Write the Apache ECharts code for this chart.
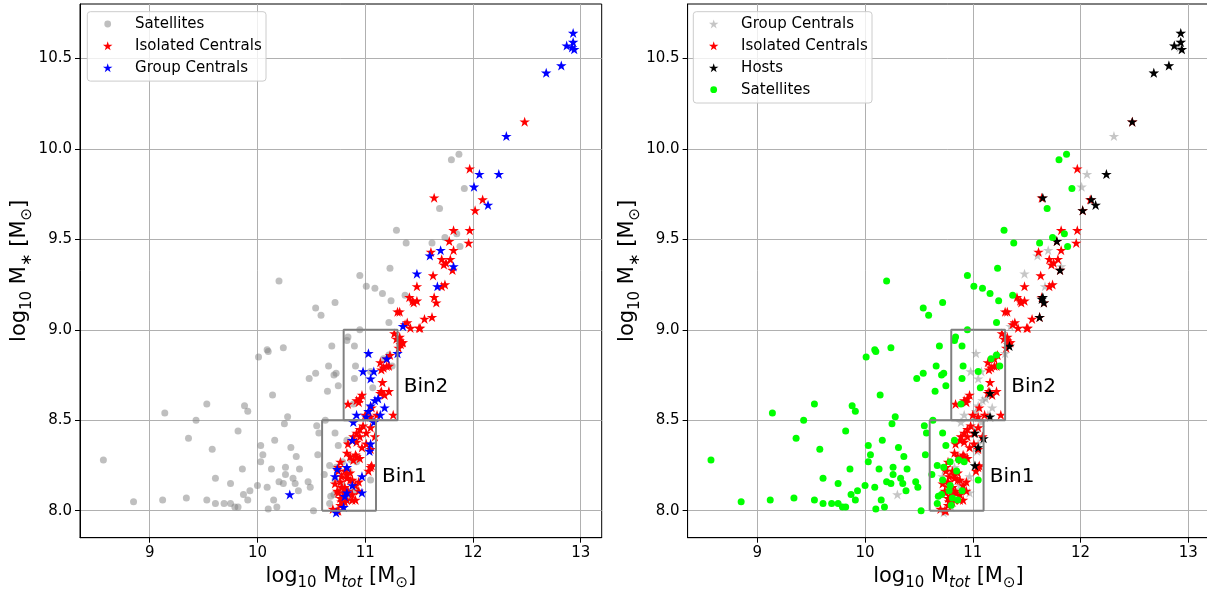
<!DOCTYPE html>
<html>
<head>
<meta charset="utf-8">
<script src="https://cdn.jsdelivr.net/npm/echarts@6/dist/echarts.min.js"></script>
<style>
  html, body { margin: 0; padding: 0; background: #fff; }
  #chart { width: 1207px; height: 591px; }
</style>
</head>
<body>
<div id="chart"></div>
<script>
// log10 halo mass (x) and log10 stellar mass (y) of each galaxy class
const satellites = [
  [8.57,8.28],[8.85,8.05],[9.12,8.06],[9.14,8.54],[9.34,8.07],[9.36,8.40],[9.43,8.50],[9.53,8.59],[9.53,8.06],[9.58,8.34],
  [9.61,8.18],[9.61,8.04],[9.69,8.04],[9.75,8.15],[9.75,8.04],[9.79,8.02],[9.82,8.44],[9.82,8.02],[9.86,8.23],[9.87,8.09],
  [9.88,8.58],[9.91,8.55],[9.91,8.06],[9.93,8.11],[10.00,8.14],[10.01,8.85],[10.03,8.36],[10.03,8.27],[10.05,8.31],[10.09,8.89],
  [10.10,8.88],[10.09,8.13],[10.10,8.01],[10.13,8.23],[10.14,8.64],[10.15,8.06],[10.16,8.39],[10.18,8.02],[10.20,9.27],[10.20,8.16],
  [10.24,8.90],[10.25,8.48],[10.24,8.15],[10.26,8.24],[10.26,8.20],[10.28,8.52],[10.31,8.35],[10.33,8.18],[10.35,8.15],[10.36,8.30],
  [10.38,8.11],[10.39,8.23],[10.47,8.16],[10.48,8.73],[10.49,8.13],[10.52,8.00],[10.54,9.12],[10.54,8.76],[10.55,8.47],[10.56,8.31],
  [10.57,8.43],[10.59,9.08],[10.63,8.50],[10.62,8.20],[10.65,8.66],[10.66,8.80],[10.67,8.25],[10.67,8.04],[10.69,8.91],[10.71,8.75],
  [10.72,9.15],[10.73,8.76],[10.72,8.43],[10.75,8.69],[10.75,8.36],[11.01,9.24],[11.09,9.23],[11.16,9.20],[11.24,9.16],[11.37,9.19],
  [11.22,9.04],[10.95,9.00],[10.84,8.96],[10.83,8.94],[10.90,8.91],[10.91,8.80],[10.90,8.73],[11.07,8.68],[11.05,8.17],[11.87,9.97],
  [11.80,9.94],[11.92,9.78],[11.69,9.67],[11.29,9.55],[11.38,9.48],[11.62,9.48],[11.74,9.51],[11.85,9.53],[11.88,9.46],[11.23,9.34],
  [10.95,9.30],[11.05,8.77],[11.17,8.84],[11.22,8.86],[11.25,8.80],[10.89,8.59],[10.83,8.39],[10.79,8.27],[10.87,8.28],[10.92,8.27],
  [10.73,8.24],[10.85,8.22],[10.79,8.14],[10.78,8.11],[10.81,8.07],[10.90,8.11],[10.68,8.08],[10.86,8.06],[10.80,8.03],[10.71,8.09],
  [10.72,8.17]
];

const isolatedCentrals = [
  [12.48,10.15],[11.97,9.89],[11.64,9.73],[12.09,9.72],[12.02,9.66],[11.82,9.55],[11.97,9.55],[11.78,9.49],[11.82,9.44],[11.96,9.48],
  [11.61,9.43],[11.71,9.39],[11.79,9.39],[11.73,9.36],[11.75,9.37],[11.81,9.33],[11.63,9.30],[11.48,9.24],[11.74,9.25],[11.71,9.24],
  [11.64,9.18],[11.41,9.18],[11.45,9.15],[11.48,9.16],[11.66,9.15],[11.30,9.10],[11.32,9.10],[11.55,9.06],[11.62,9.07],[11.39,9.04],
  [11.50,9.01],[11.42,9.01],[11.27,8.98],[11.32,8.96],[11.34,8.93],[11.33,8.92],[11.32,8.94],[11.35,8.93],[11.29,8.95],[11.31,8.90],
  [11.20,8.84],[11.23,8.86],[11.14,8.82],[11.17,8.79],[11.20,8.80],[11.15,8.78],[11.22,8.80],[11.16,8.71],[11.15,8.66],[11.22,8.66],
  [11.18,8.64],[11.14,8.65],[10.97,8.64],[10.95,8.62],[10.84,8.59],[10.92,8.61],[11.26,8.53],[11.11,8.53],[11.05,8.52],[11.06,8.57],
  [11.00,8.53],[10.94,8.60],[10.98,8.47],[10.95,8.45],[10.92,8.43],[11.01,8.43],[11.05,8.46],[11.09,8.41],[10.89,8.41],[10.92,8.38],
  [10.97,8.35],[11.01,8.37],[10.84,8.37],[10.88,8.39],[11.05,8.34],[10.95,8.41],[10.83,8.32],[10.86,8.30],[10.89,8.28],[10.92,8.30],
  [10.95,8.29],[10.91,8.31],[11.05,8.24],[11.03,8.22],[11.06,8.25],[10.77,8.27],[10.75,8.24],[10.81,8.22],[10.86,8.21],[10.83,8.18],
  [10.88,8.17],[10.94,8.16],[10.75,8.22],[10.78,8.19],[10.83,8.20],[10.77,8.16],[10.78,8.13],[10.72,8.15],[10.81,8.13],[10.86,8.17],
  [10.91,8.14],[10.94,8.11],[10.74,8.11],[10.80,8.10],[10.84,8.10],[10.75,8.10],[10.80,8.08],[10.84,8.11],[10.88,8.09],[10.91,8.06],
  [10.77,8.07],[10.88,8.06],[10.81,8.05],[10.78,8.05],[10.83,8.06],[10.70,8.01],[10.75,8.00],[10.77,8.03],[10.74,8.00],[11.37,9.03],
  [11.44,9.16],[11.51,9.01]
];

const groupCentrals = [
  [12.93,10.64],[12.87,10.57],[12.93,10.59],[12.94,10.55],[12.92,10.56],[12.82,10.46],[12.68,10.42],[12.31,10.07],[12.06,9.86],[12.24,9.86],
  [12.01,9.79],[12.14,9.69],[11.70,9.44],[11.60,9.41],[11.82,9.35],[11.48,9.31],[11.67,9.24],[11.35,9.02],[11.30,8.87],[11.03,8.87],
  [11.20,8.84],[10.98,8.77],[11.08,8.77],[11.05,8.73],[11.09,8.61],[11.12,8.62],[11.05,8.58],[11.18,8.57],[11.14,8.53],[10.92,8.53],
  [11.03,8.55],[11.01,8.52],[11.08,8.49],[10.89,8.49],[11.05,8.37],[11.04,8.33],[10.88,8.39],[10.74,8.23],[10.83,8.24],[10.72,8.19],
  [10.97,8.19],[10.88,8.14],[10.83,8.10],[10.81,8.08],[10.97,8.10],[10.80,8.02],[10.73,7.99],[10.30,8.09]
];

const hosts = [
  [12.93,10.64],[12.87,10.57],[12.93,10.59],[12.94,10.55],[12.82,10.46],[12.68,10.42],[12.48,10.15],[12.24,9.86],[11.65,9.73],[12.10,9.72],
  [12.14,9.69],[12.02,9.66],[11.78,9.49],[11.81,9.33],[11.65,9.18],[11.64,9.17],[11.66,9.15],[11.62,9.07],[11.34,8.91],[11.16,8.65],
  [11.16,8.52],[11.02,8.43],[11.10,8.40],[11.05,8.35],[11.02,8.25]
];

// stellar-mass bins: [xMin, xMax, yMin, yMax]
const binNames = ['Bin1', 'Bin2'];
const binEdges = [[10.6, 11.1, 8.0, 8.5], [10.8, 11.3, 8.5, 9.0]];

const xTicks = [9, 10, 11, 12, 13];
const yTicks = [8.0, 8.5, 9.0, 9.5, 10.0, 10.5];
const X_RANGE = [8.353, 13.195];
const Y_RANGE = [7.851, 10.80];

const FONT = 'DejaVu Sans';
const COLORS = {
  satGrey: 'rgba(128,128,128,0.5)',
  satGreen: '#00ff00',
  isolated: '#ff0000',
  groupBlue: '#0000ff',
  groupGrey: 'rgba(128,128,128,0.45)',
  hosts: '#000000'
};

// five-pointed star vertices on a unit circle (y pointing down)
function starPoints() {
  const pts = [];
  for (let i = 0; i < 10; i++) {
    const r = i % 2 ? 0.382 : 1;
    const a = Math.PI / 2 + i * Math.PI / 5;
    pts.push([r * Math.cos(a), -r * Math.sin(a)]);
  }
  return pts;
}
const STAR_PTS = starPoints();
const STAR = 'path://M' + STAR_PTS.map(p => (50 + 50 * p[0]).toFixed(2) + ',' + (50 + 50 * p[1]).toFixed(2)).join('L') + 'Z';

const nameRich = {
  t: { fontFamily: FONT, fontSize: 21, lineHeight: 30, color: '#000' },
  s: { fontFamily: FONT, fontSize: 15, lineHeight: 18, verticalAlign: 'bottom', color: '#000' },
  i: { fontFamily: FONT, fontSize: 15, lineHeight: 18, verticalAlign: 'bottom', fontStyle: 'italic', color: '#000' }
};
const xName = '{t|log}{s|10}{t| M}{i|tot}{t| [M}{s|⊙}{t|]}';
const yName = '{t|log}{s|10}{t| M}{s|∗}{t| [M}{s|⊙}{t|]}';

const GRID_W = 521.7, GRID_H = 533.7, GRID_TOP = 4;
const panelLeft = [80, 687.6];

function makeXAxis(gi) {
  return {
    type: 'value', gridIndex: gi, min: X_RANGE[0], max: X_RANGE[1],
    axisLine: { show: true, onZero: false, lineStyle: { color: '#000', width: 1 } },
    axisTick: { show: true, length: 5, customValues: xTicks, lineStyle: { color: '#000', width: 1 } },
    axisLabel: { customValues: xTicks, fontFamily: FONT, fontSize: 15, color: '#000', margin: 8,
                 formatter: v => String(Math.round(v)) },
    splitLine: { show: true, lineStyle: { color: '#b0b0b0', width: 1 } },
    name: xName, nameLocation: 'middle', nameGap: 22,
    nameTextStyle: { rich: nameRich }
  };
}
function makeYAxis(gi) {
  return {
    type: 'value', gridIndex: gi, min: Y_RANGE[0], max: Y_RANGE[1],
    axisLine: { show: true, onZero: false, lineStyle: { color: '#000', width: 1 } },
    axisTick: { show: true, length: 5, customValues: yTicks, lineStyle: { color: '#000', width: 1 } },
    axisLabel: { customValues: yTicks, fontFamily: FONT, fontSize: 15, color: '#000', margin: 8,
                 formatter: v => v.toFixed(1) },
    splitLine: { show: true, lineStyle: { color: '#b0b0b0', width: 1 } },
    name: yName, nameLocation: 'middle', nameGap: 32,
    nameTextStyle: { rich: nameRich }
  };
}

function scatter(gi, data, symbol, size, color) {
  return {
    type: 'scatter', xAxisIndex: gi, yAxisIndex: gi, data,
    symbol, symbolSize: size, itemStyle: { color, opacity: 1 },
    emphasis: { disabled: true }, silent: true
  };
}

function binSeries(gi) {
  const out = [];
  binEdges.forEach((b, k) => {
    const [x0, x1, y0, y1] = b;
    out.push({
      type: 'line', xAxisIndex: gi, yAxisIndex: gi, silent: true, symbol: 'none',
      data: [[x0, y0], [x1, y0], [x1, y1], [x0, y1], [x0, y0]],
      lineStyle: { color: '#808080', width: 2 }, z: 4
    });
    out.push({
      type: 'scatter', xAxisIndex: gi, yAxisIndex: gi, silent: true, symbolSize: 0,
      itemStyle: { opacity: 1 },
      data: [[x1 + 0.057, (y0 + y1) / 2 - 0.063]],
      label: { show: true, position: [0, 0], align: 'left', verticalAlign: 'middle',
               formatter: binNames[k], fontFamily: FONT, fontSize: 20, color: '#000',
               opacity: 1, textBorderWidth: 0 },
      z: 5
    });
  });
  return out;
}

const SAT_SIZE = 7, STAR_SIZE = [10.5, 10];

const series = [
  scatter(0, satellites, 'circle', SAT_SIZE, COLORS.satGrey),
  scatter(0, isolatedCentrals, STAR, STAR_SIZE, COLORS.isolated),
  scatter(0, groupCentrals, STAR, STAR_SIZE, COLORS.groupBlue),
  ...binSeries(0),
  scatter(1, groupCentrals, STAR, STAR_SIZE, COLORS.groupGrey),
  scatter(1, isolatedCentrals, STAR, STAR_SIZE, COLORS.isolated),
  scatter(1, hosts, STAR, STAR_SIZE, COLORS.hosts),
  scatter(1, satellites, 'circle', SAT_SIZE, COLORS.satGreen),
  ...binSeries(1)
];

// legend boxes drawn as graphics: [label, marker, colour]
const legendLeft = [['Satellites', 'circle', COLORS.satGrey], ['Isolated Centrals', 'star', COLORS.isolated], ['Group Centrals', 'star', COLORS.groupBlue]];
const legendRight = [['Group Centrals', 'star', COLORS.groupGrey], ['Isolated Centrals', 'star', COLORS.isolated], ['Hosts', 'star', COLORS.hosts], ['Satellites', 'circle', COLORS.satGreen]];

function legendGraphic(entries, boxLeft) {
  const rowH = 21.9, firstRow = 24, markerDx = 20.4, textDx = 47.8, starR = 5;
  const els = [{
    type: 'rect', z: 10, silent: true,
    shape: { x: boxLeft, y: 11.7, width: 178.7, height: 12.3 + rowH * (entries.length - 1) + 13.3, r: 3 },
    style: { fill: 'rgba(255,255,255,0.8)', stroke: '#cccccc', lineWidth: 1 }
  }];
  entries.forEach((e, i) => {
    const cy = firstRow + rowH * i, cx = boxLeft + markerDx;
    if (e[1] === 'circle') {
      els.push({ type: 'circle', z: 11, silent: true, shape: { cx, cy, r: 3.4 }, style: { fill: e[2] } });
    } else {
      els.push({ type: 'polygon', z: 11, silent: true,
        shape: { points: STAR_PTS.map(p => [cx + starR * p[0], cy + 0.4 + starR * p[1]]) },
        style: { fill: e[2] } });
    }
    els.push({ type: 'text', z: 11, silent: true, x: boxLeft + textDx, y: cy,
      style: { text: e[0], fill: '#000', font: '15px "DejaVu Sans"', verticalAlign: 'middle', align: 'left' } });
  });
  return els;
}

const option = {
  animation: false,
  backgroundColor: '#fff',
  grid: panelLeft.map(l => ({
    left: l, top: GRID_TOP, width: GRID_W, height: GRID_H, outerBoundsMode: 'none', containLabel: false,
    show: true, borderColor: '#000', borderWidth: 1, backgroundColor: 'transparent'
  })),
  xAxis: [makeXAxis(0), makeXAxis(1)],
  yAxis: [makeYAxis(0), makeYAxis(1)],
  graphic: [...legendGraphic(legendLeft, 87.3), ...legendGraphic(legendRight, 693.3)],
  series
};

const chart = echarts.init(document.getElementById('chart'), null, { renderer: 'canvas' });
chart.setOption(option);
</script>
</body>
</html>
